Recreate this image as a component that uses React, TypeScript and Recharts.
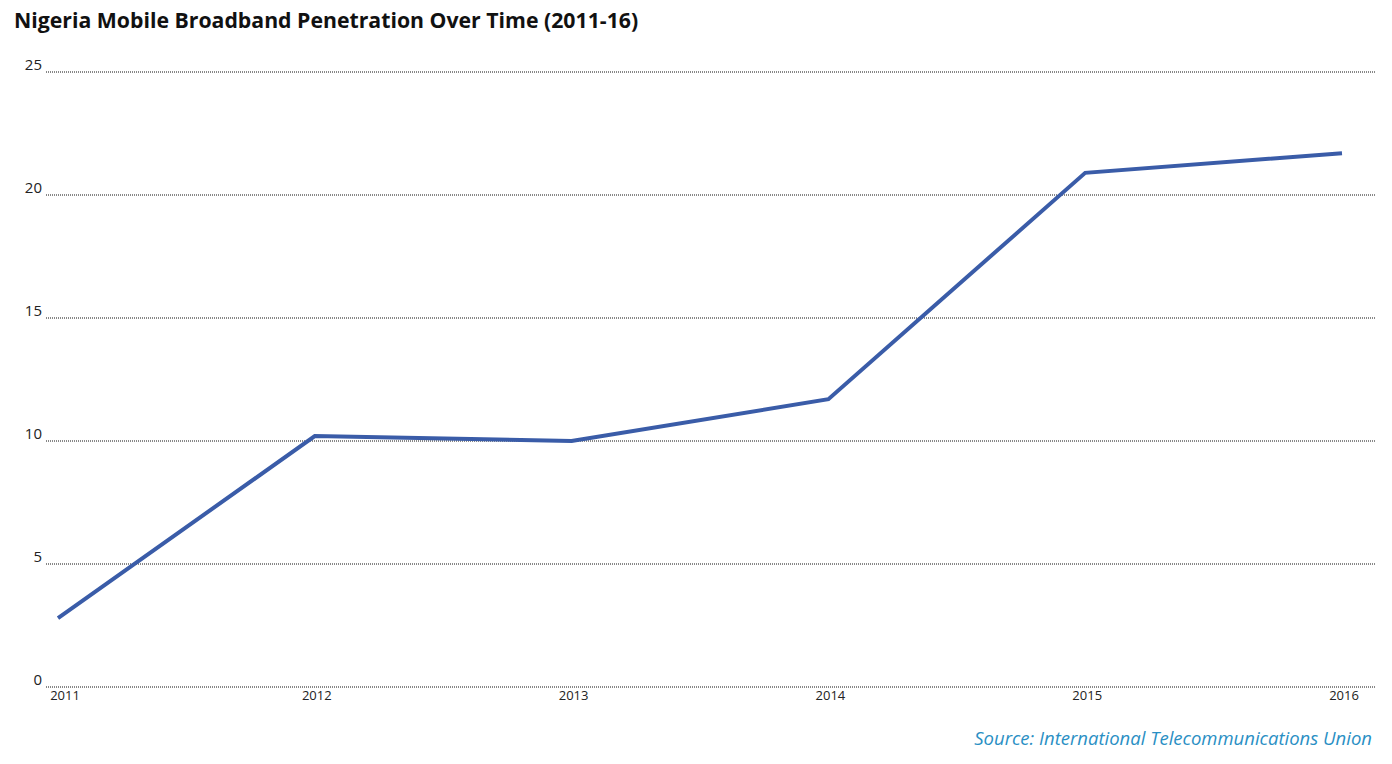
import React from "react";
import { LineChart, Line, XAxis, YAxis, CartesianGrid } from "recharts";

const YEARS = [2011, 2012, 2013, 2014, 2015, 2016];
const PENETRATION = [2.8, 10.2, 10.0, 11.7, 20.9, 21.7];
const Y_TICKS = [0, 5, 10, 15, 20, 25];

const data = YEARS.map((year, i) => ({ year, value: PENETRATION[i] }));

const FONT = '"Open Sans", "Noto Sans", sans-serif';

const YTick = ({ x, y, payload }: any) => (
  <text x={x + 4} y={y - 2} textAnchor="end" fill="#222" fontSize={15} fontFamily={FONT}>
    {payload.value}
  </text>
);

const XTick = ({ x, y, payload, index }: any) => (
  <text
    x={x + (index === 0 ? 7 : 2)}
    y={y + 5}
    textAnchor="middle"
    fill="#222"
    fontSize={13}
    fontFamily={FONT}
  >
    {payload.value}
  </text>
);

export default function App() {
  return (
    <div
      style={{
        position: "relative",
        width: 1392,
        height: 764,
        margin: -8,
        background: "#fff",
        fontFamily: FONT,
      }}
    >
      <div
        style={{
          position: "absolute",
          left: 14,
          top: 5,
          fontSize: 21.25,
          fontWeight: 700,
          color: "#111",
        }}
      >
        Nigeria Mobile Broadband Penetration Over Time (2011-16)
      </div>
      <LineChart
        width={1392}
        height={764}
        data={data}
        margin={{ top: 72, right: 17, bottom: 0, left: 0 }}
      >
        <CartesianGrid
          vertical={false}
          stroke="#111"
          strokeDasharray="1 1"
          strokeWidth={1}
        />
        <XAxis
          dataKey="year"
          type="number"
          domain={[2011, 2016]}
          ticks={YEARS}
          padding={{ left: 12, right: 33 }}
          axisLine={false}
          tickLine={false}
          tick={<XTick />}
          height={77}
        />
        <YAxis
          domain={[0, 25]}
          ticks={Y_TICKS}
          axisLine={false}
          tickLine={false}
          width={46}
          tick={<YTick />}
        />
        <Line
          dataKey="value"
          stroke="#3a5ca8"
          strokeWidth={4}
          dot={false}
          isAnimationActive={false}
          strokeLinejoin="miter"
        />
      </LineChart>
      <div
        style={{
          position: "absolute",
          right: 20,
          top: 725,
          fontSize: 18.5,
          fontStyle: "italic",
          color: "#2a8fc4",
        }}
      >
        Source: International Telecommunications Union
      </div>
    </div>
  );
}
